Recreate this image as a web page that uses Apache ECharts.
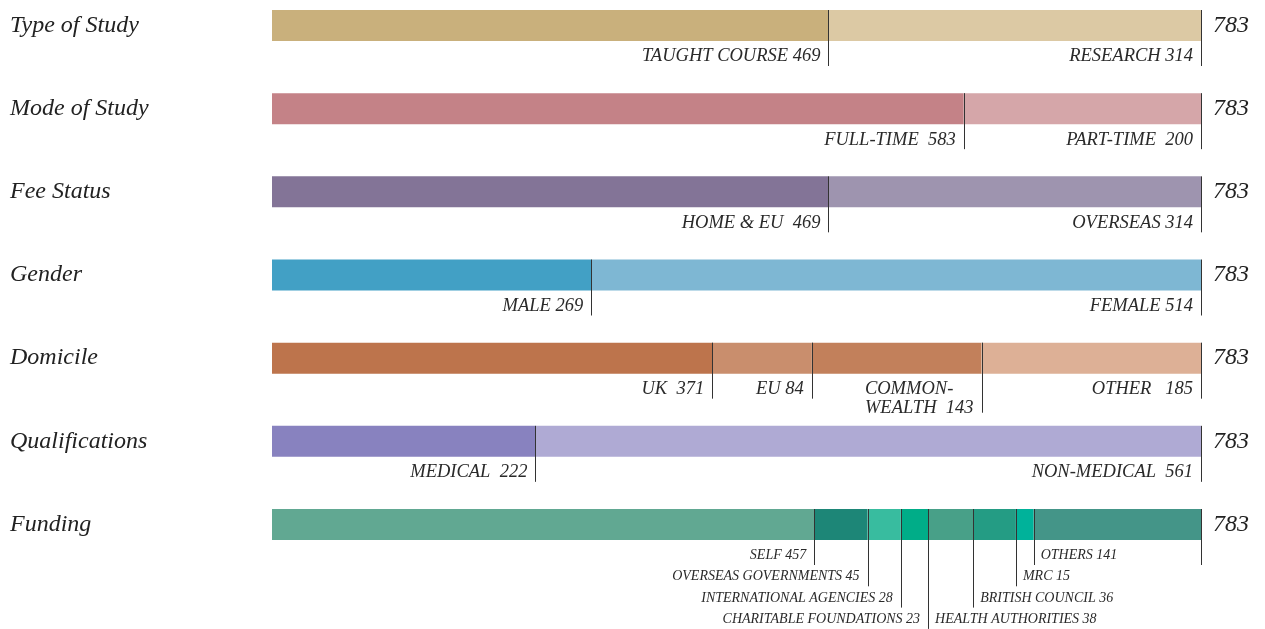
<!DOCTYPE html>
<html>
<head>
<meta charset="utf-8">
<script src="https://cdn.jsdelivr.net/npm/echarts@6/dist/echarts.min.js"></script>
<style>
html,body{margin:0;padding:0;background:#fff;}
#chart{width:1265px;height:629px;}
</style>
</head>
<body>
<div id="chart"></div>
<script>
// ---- DATA ----
const rows = ['Type of Study', 'Mode of Study', 'Fee Status', 'Gender', 'Domicile', 'Qualifications', 'Funding'];
const totals = [783, 783, 783, 783, 783, 783, 783];
const segNames = [
  ['TAUGHT COURSE ', 'RESEARCH '],
  ['FULL-TIME  ', 'PART-TIME  '],
  ['HOME & EU  ', 'OVERSEAS '],
  ['MALE ', 'FEMALE '],
  ['UK  ', 'EU ', 'COMMON-\nWEALTH  ', 'OTHER   '],
  ['MEDICAL  ', 'NON-MEDICAL  '],
  ['SELF ', 'OVERSEAS GOVERNMENTS ', 'INTERNATIONAL AGENCIES ', 'CHARITABLE FOUNDATIONS ',
   'HEALTH AUTHORITIES ', 'BRITISH COUNCIL ', 'MRC ', 'OTHERS ']
];
const segValues = [
  [469, 314],
  [583, 200],
  [469, 314],
  [269, 514],
  [371, 84, 143, 185],
  [222, 561],
  [457, 45, 28, 23, 38, 36, 15, 141]
];

// ---- STYLE ----
const palette = [
  ['#C9B07C', '#DCC9A4'],
  ['#C48287', '#D5A6A9'],
  ['#837497', '#9E94AF'],
  ['#42A0C5', '#7EB7D3'],
  ['#BD744C', '#C98E6D', '#C2805B', '#DDB096'],
  ['#8882BF', '#AFAAD4'],
  ['#61A892', '#1D8677', '#38BC9F', '#00AD88', '#48A088', '#249C84', '#00B29A', '#449588']
];
const serif = '"Liberation Serif", "DejaVu Serif", serif';
const barW = 31;
const stepY = 21.3;
const fundLine = [0, 1, 2, 3, 2, 1, 0, 0];
const fundLabel = [0, 1, 2, 3, 3, 2, 1, 0];

function layoutFor(row, seg) {
  if (row === 6) {
    return { lineLevel: fundLine[seg], labelLevel: fundLabel[seg], anchor: seg < 4 ? 'end' : 'start', size: 14, lh: 16 };
  }
  return { lineLevel: (row === 4 && seg === 2) ? 0.66 : 0, labelLevel: 0, anchor: 'end', size: 18.5, lh: 19 };
}

const measureCtx = document.createElement('canvas').getContext('2d');
function textWidth(str, size) {
  measureCtx.font = 'italic ' + size + 'px ' + serif;
  return Math.max.apply(null, str.split('\n').map(s => measureCtx.measureText(s).width));
}

// ---- SERIES ----
const maxSegs = Math.max.apply(null, segValues.map(s => s.length));
const barSeries = [];
for (let k = 0; k < maxSegs; k++) {
  barSeries.push({
    type: 'bar',
    stack: 'total',
    barWidth: barW,
    clip: false,
    silent: true,
    data: rows.map((r, i) => segValues[i][k] === undefined ? '-' : {
      value: segValues[i][k],
      itemStyle: { color: palette[i][k] }
    })
  });
}

const divData = [];
segValues.forEach((vals, r) => {
  let cum = 0;
  vals.forEach((v, k) => {
    divData.push([cum + v, r, cum, k]);
    cum += v;
  });
});

function renderItem(params, api) {
  const end = api.value(0), row = api.value(1), start = api.value(2), seg = api.value(3);
  const pEnd = api.coord([end, row]);
  const pStart = api.coord([start, row]);
  const cy = pEnd[1];
  const lay = layoutFor(row, seg);
  const lx = Math.round(pEnd[0]) + 0.5;
  const top = cy - barW / 2;
  const bottom = cy + barW / 2 + 25 + lay.lineLevel * stepY;
  const label = segNames[row][seg] + segValues[row][seg];
  const ty = cy + 31 + lay.labelLevel * stepY - lay.lh / 2;
  let tx;
  if (lay.anchor === 'end') {
    tx = pEnd[0] - 8 - textWidth(label, lay.size);
  } else {
    tx = pStart[0] + 7;
  }
  return {
    type: 'group',
    children: [
      { type: 'line', shape: { x1: lx, y1: top, x2: lx, y2: bottom }, style: { stroke: '#333', lineWidth: 1 } },
      { type: 'text', style: {
          text: label, x: tx, y: ty, align: 'left', verticalAlign: 'top',
          fill: '#2a2a2a', fontFamily: serif, fontStyle: 'italic', fontSize: lay.size, lineHeight: lay.lh
        } }
    ]
  };
}

const chart = echarts.init(document.getElementById('chart'), null, { renderer: 'canvas' });
chart.setOption({
  animation: false,
  grid: { left: 272, right: 64, top: 25.5, bottom: 104.5 },
  xAxis: { type: 'value', min: 0, max: Math.max.apply(null, totals), show: false },
  yAxis: [
    {
      type: 'category', data: rows, inverse: true, boundaryGap: false,
      axisLine: { show: false }, axisTick: { show: false }, splitLine: { show: false },
      axisLabel: { align: 'left', margin: 262, color: '#222', fontFamily: serif, fontStyle: 'italic', fontSize: 24 }
    },
    {
      type: 'category', data: totals.map(String), inverse: true, position: 'right', boundaryGap: false,
      axisLine: { show: false }, axisTick: { show: false }, splitLine: { show: false },
      axisLabel: { align: 'left', margin: 12, color: '#222', fontFamily: serif, fontStyle: 'italic', fontSize: 24, padding: [0, 0, 3, 0] }
    }
  ],
  series: barSeries.concat([{
    type: 'custom',
    renderItem: renderItem,
    encode: { x: 0, y: 1 },
    data: divData,
    z: 5,
    clip: false,
    silent: true
  }])
});
</script>
</body>
</html>
